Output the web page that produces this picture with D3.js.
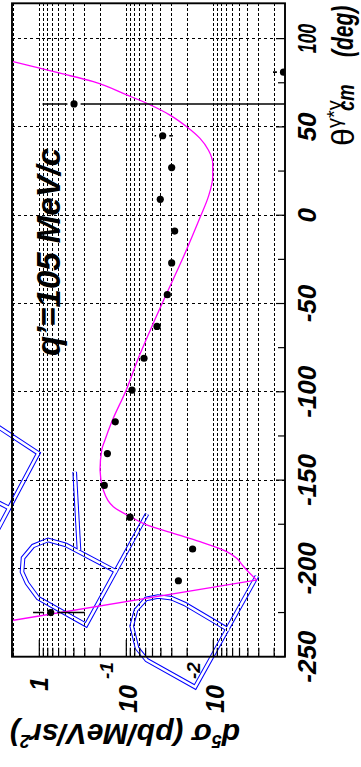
<!DOCTYPE html>
<html>
<head>
<meta charset="utf-8">
<script src="https://cdn.jsdelivr.net/npm/d3@7"></script>
<style>
  html, body { margin: 0; padding: 0; background: #fff; }
  svg { display: block; }
  text { font-family: "Liberation Sans", Arial, Helvetica, sans-serif; }
</style>
</head>
<body>
<script>
// Measured photon angles (deg) and five-fold cross sections (pb/MeV/sr^2)
const theta    = [81, 63, 45, 27, 9, -9, -27, -45, -63, -81, -99, -117, -135, -153, -171, -189, -207, -225];
const sigma    = [0.00156, 0.399, 0.0382, 0.0301, 0.0407, 0.0278, 0.0301, 0.0338, 0.0444, 0.0626,
                  0.0860, 0.134, 0.165, 0.179, 0.0906, 0.0173, 0.0252, 0.740];
const sigmaErr = [0.0005, 0.52, 0.009, 0.004, 0.006, 0.004, 0.004, 0.004, 0.005, 0.006,
                  0.008, 0.010, 0.012, 0.012, 0.008, 0.0025, 0.0035, 0.44];

// Model prediction: straight branch below the minimum, smooth branch above it
const modelLowTheta = [-232, -206.6];
const modelLowSigma = [4.20, 0.00317];
const modelTheta = [-206.6, -201.9, -198.5, -194.3, -190.5, -184.9, -180.1, -175.4, -171.6, -165.1,
                    -155.6, -144.3, -133.0, -127.3, -117.0, -99.2, -81.0, -63.1, -44.2, -25.4,
                    -1.3, 10.5, 21.8, 29.4, 36.9, 43.5, 50.1, 56.7, 63.4, 68.1, 75.6, 80.4, 87.1, 90.0];
const modelSigma = [0.00317, 0.00396, 0.00457, 0.00538, 0.00701, 0.01422, 0.02884, 0.05834, 0.08318, 0.1409,
                    0.1837, 0.2004, 0.1919, 0.1758, 0.147, 0.1007, 0.0728, 0.0510, 0.0343, 0.0229,
                    0.01422, 0.01140, 0.01016, 0.01016, 0.01140, 0.01422, 0.02023, 0.03148, 0.05834, 0.0989,
                    0.2393, 0.578, 2.06, 3.57];

// Axis ticks
const thetaMajor = [-250, -200, -150, -100, -50, 0, 50, 100];
const thetaMinor = [-225, -175, -125, -75, -25, 25, 75];
const thetaTickLabels = ["-250", "-200", "-150", "-100", "-50", "0", "50", "100"];
const sigmaLabelValues = [1, 0.1, 0.01];
const sigmaLabelExponents = ["", "-1", "-2"];

// Blue outlined strokes, as [theta, sigma] vertices
const outlineA  = [[-113.1, 4.81], [-134.8, 1.027], [-188.45, 3.89]];
const outlineA2 = [[-157.3, 4.81], [-165.8, 2.23]];
const outlineB  = [[-169.2, 0.0578], [-232.05, 0.290], [-216.8, 1.035], [-208.3, 1.384], [-202.0, 1.581],
                   [-194.1, 1.538], [-187.3, 1.180], [-183.9, 0.794], [-186.75, 0.493], [-202.0, 0.128]];
const outlineB2 = [[-145.4, 0.392], [-189.6, 0.350]];
const outlineC  = [[-204.3, 0.00315], [-267.2, 0.0162], [-251.9, 0.0583], [-245.1, 0.0753], [-232.6, 0.0867],
                   [-223.6, 0.0774], [-217.3, 0.0594], [-215.9, 0.0433], [-216.9, 0.0301], [-220.2, 0.0211],
                   [-234.9, 0.00661]];

const W = 361, H = 767;
const frame = { left: 12, right: 285, top: 3.3, bottom: 656.7 };

// The plot is laid out turned: angle runs upward, cross section runs leftward.
const sigmaScale = d3.scaleLog().domain([2.06, 0.0015]).range([frame.left, frame.right]);
const thetaScale = d3.scaleLinear().domain([-250, 120]).range([frame.bottom, frame.top]);

const svg = d3.select("body").append("svg").attr("width", W).attr("height", H);
const defs = svg.append("defs");
defs.append("clipPath").attr("id", "plotClip").append("rect")
  .attr("x", frame.left).attr("y", frame.top)
  .attr("width", frame.right - frame.left).attr("height", frame.bottom - frame.top);

svg.append("rect").attr("width", W).attr("height", H).attr("fill", "#fff");

// Grid
const sigmaTicks = sigmaScale.ticks();
const isDecade = v => Math.abs(Math.log10(v) - Math.round(Math.log10(v))) < 1e-6;
const grid = svg.append("g").attr("stroke", "#000").attr("stroke-width", 1)
  .attr("fill", "none").attr("shape-rendering", "crispEdges");
grid.selectAll("line.gv").data(sigmaTicks).join("line").attr("class", "gv")
  .attr("x1", d => sigmaScale(d)).attr("x2", d => sigmaScale(d))
  .attr("y1", frame.top).attr("y2", frame.bottom)
  .attr("stroke-dasharray", "2.5,2.5");
grid.selectAll("line.gh").data(thetaMajor).join("line").attr("class", "gh")
  .attr("x1", frame.left).attr("x2", frame.right)
  .attr("y1", d => thetaScale(d)).attr("y2", d => thetaScale(d))
  .attr("stroke-dasharray", "3,3");

// Blue outlined strokes: band between two stroke widths
const outlinePath = d3.line().x(p => sigmaScale(p[1])).y(p => thetaScale(p[0]));
const outlines = [outlineA, outlineA2, outlineB, outlineB2, outlineC];
const mask = defs.append("mask").attr("id", "outlineMask")
  .attr("maskUnits", "userSpaceOnUse").attr("x", -50).attr("y", -50).attr("width", W + 100).attr("height", H + 100);
mask.selectAll("path.o").data(outlines).join("path").attr("class", "o")
  .attr("d", outlinePath).attr("fill", "none").attr("stroke", "#fff")
  .attr("stroke-width", 4.6).attr("stroke-linejoin", "miter").attr("stroke-linecap", "butt");
mask.selectAll("path.i").data(outlines).join("path").attr("class", "i")
  .attr("d", outlinePath).attr("fill", "none").attr("stroke", "#000")
  .attr("stroke-width", 2.6).attr("stroke-linejoin", "miter").attr("stroke-linecap", "butt");
svg.append("rect").attr("x", -50).attr("y", -50).attr("width", W + 100).attr("height", H + 100)
  .attr("fill", "#0000ff").attr("mask", "url(#outlineMask)");

// Model curve
const plot = svg.append("g").attr("clip-path", "url(#plotClip)");
const lowPts = modelLowTheta.map((t, i) => [sigmaScale(modelLowSigma[i]), thetaScale(t)]);
plot.append("path").attr("d", d3.line()(lowPts))
  .attr("fill", "none").attr("stroke", "#ff00ff").attr("stroke-width", 1.3);
const highPts = modelTheta.map((t, i) => [sigmaScale(modelSigma[i]), thetaScale(t)]).reverse();
plot.append("path").attr("d", d3.line().curve(d3.curveMonotoneY)(highPts))
  .attr("fill", "none").attr("stroke", "#ff00ff").attr("stroke-width", 1.3);

// Data points with error bars (bars stop short of the marker)
const rMark = 3.6, gap = 3;
const points = theta.map((t, i) => ({ t, v: sigma[i], e: sigmaErr[i] }));
const barSegs = [];
points.forEach(p => {
  const y = thetaScale(p.t), xc = sigmaScale(p.v);
  const xHi = sigmaScale(p.v + p.e);
  const xLo = p.v - p.e > 0 ? sigmaScale(p.v - p.e) : frame.right + 10;
  if (xc - rMark - gap > xHi) barSegs.push([xHi, xc - rMark - gap, y]);
  if (xLo > xc + rMark + gap) barSegs.push([xc + rMark + gap, xLo, y]);
});
plot.selectAll("line.err").data(barSegs).join("line").attr("class", "err")
  .attr("x1", d => d[0]).attr("x2", d => d[1]).attr("y1", d => d[2]).attr("y2", d => d[2])
  .attr("stroke", "#000").attr("stroke-width", 1.6);
plot.selectAll("circle.pt").data(points).join("circle").attr("class", "pt")
  .attr("cx", d => sigmaScale(d.v)).attr("cy", d => thetaScale(d.t)).attr("r", rMark).attr("fill", "#000");

// Frame
svg.append("rect").attr("x", frame.left).attr("y", frame.top)
  .attr("width", frame.right - frame.left).attr("height", frame.bottom - frame.top)
  .attr("fill", "none").attr("stroke", "#000").attr("stroke-width", 1.9);

// Ticks
const ticks = svg.append("g").attr("stroke", "#000").attr("stroke-width", 1.2);
ticks.selectAll("line.tM").data(thetaMajor).join("line").attr("class", "tM")
  .attr("x1", frame.right - 9).attr("x2", frame.right)
  .attr("y1", d => thetaScale(d)).attr("y2", d => thetaScale(d));
ticks.selectAll("line.tm").data(thetaMinor).join("line").attr("class", "tm")
  .attr("x1", frame.right - 7).attr("x2", frame.right)
  .attr("y1", d => thetaScale(d)).attr("y2", d => thetaScale(d));
ticks.selectAll("line.ts").data(sigmaTicks.filter(v => sigmaScale(v) > frame.left + 1)).join("line").attr("class", "ts")
  .attr("x1", d => sigmaScale(d)).attr("x2", d => sigmaScale(d))
  .attr("y1", frame.bottom).attr("y2", d => frame.bottom - (isDecade(d) ? 17 : 9));

const bi = s => s.attr("font-weight", "bold").attr("font-style", "italic");

// Angle tick labels
const labelSquash = { "100": 0.68 };
bi(svg.selectAll("text.tl").data(thetaMajor).join("text").attr("class", "tl"))
  .attr("transform", (d, i) => `translate(316,${thetaScale(d)}) rotate(-90) scale(${labelSquash[thetaTickLabels[i]] || 1},1)`)
  .attr("text-anchor", "middle").attr("font-size", 26)
  .text((d, i) => thetaTickLabels[i]);

// Cross-section tick labels
sigmaLabelValues.forEach((v, i) => {
  const x = sigmaScale(v);
  if (sigmaLabelExponents[i] === "") {
    bi(svg.append("text").attr("transform", `translate(${x + 9},691) rotate(-90)`))
      .attr("font-size", 25).text("1");
  } else {
    bi(svg.append("text").attr("transform", `translate(${x + 10.5},713) rotate(-90)`))
      .attr("font-size", 25).text("10");
    bi(svg.append("text").attr("transform", `translate(${x - 13.5},679) rotate(-90)`))
      .attr("font-size", 19).text(sigmaLabelExponents[i]);
  }
});

// Cross-section axis title (upside down)
const yTitle = bi(svg.append("text").attr("transform", "translate(240,724) rotate(180)")).attr("font-size", 30);
yTitle.append("tspan").text("d");
yTitle.append("tspan").attr("font-size", 18).attr("dy", -11).text("5");
yTitle.append("tspan").attr("dy", 11).text("σ (pb/MeV/sr");
yTitle.append("tspan").attr("font-size", 18).attr("dy", -11).text("2");
yTitle.append("tspan").attr("dy", 11).text(")");

// Angle axis title
svg.append("text").attr("transform", "translate(354,146) rotate(-90)").attr("font-size", 32).text("θ");
svg.append("text").attr("transform", "translate(341,128) rotate(-90)").attr("font-size", 20).text("γ*γ");
bi(svg.append("text").attr("transform", "translate(354,111) rotate(-90) scale(0.8,1)")).attr("font-size", 23).text("cm");
bi(svg.append("text").attr("transform", "translate(353,57) rotate(-90) scale(0.7,1)")).attr("font-size", 30).text("(deg)");

// Kinematics label
bi(svg.append("text").attr("transform", "translate(60,356) rotate(-90)")).attr("font-size", 33).text("q’=105 MeV/c");
</script>
</body>
</html>
